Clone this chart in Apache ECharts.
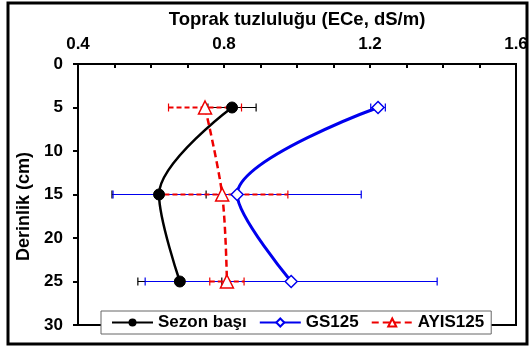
<!DOCTYPE html>
<html>
<head>
<meta charset="utf-8">
<script src="https://cdn.jsdelivr.net/npm/echarts@6/dist/echarts.min.js"></script>
<style>html,body{margin:0;padding:0;background:#fff}#c{width:531px;height:349px}</style>
</head>
<body>
<div id="c"></div>
<script>
const depths = [5, 15, 25];
const sezonVals = [0.822, 0.622, 0.679];
const sezonErr = [0.066, 0.129, 0.115];
const gsVals = [1.222, 0.836, 0.984];
const gsErr = [0.02, 0.34, 0.40];
const ayisVals = [0.748, 0.795, 0.808];
const ayisErr = [0.10, 0.18, 0.047];
const xTicks = [0.4, 0.8, 1.2, 1.6];
const yTicks = [0, 5, 10, 15, 20, 25, 30];

const FONT = 'Liberation Sans';
const chart = echarts.init(document.getElementById('c'));

function pts(vals) { return vals.map((v, i) => [v, depths[i]]); }
function errData(vals, errs) { return vals.map((v, i) => [v - errs[i], v + errs[i], depths[i]]); }
function errSeries(vals, errs, color, width, dash) {
  return {
    type: 'custom', silent: true, z: 1, legendHoverLink: false,
    data: errData(vals, errs),
    renderItem: function (params, api) {
      const a = api.coord([api.value(0), api.value(2)]);
      const b = api.coord([api.value(1), api.value(2)]);
      const h = 4;
      const style = { stroke: color, lineWidth: width, lineDash: dash || null };
      return {
        type: 'group', children: [
          { type: 'line', shape: { x1: a[0], y1: a[1], x2: b[0], y2: b[1] }, style: style },
          { type: 'line', shape: { x1: a[0], y1: a[1] - h, x2: a[0], y2: a[1] + h }, style: { stroke: color, lineWidth: 1.2 } },
          { type: 'line', shape: { x1: b[0], y1: b[1] - h, x2: b[0], y2: b[1] + h }, style: { stroke: color, lineWidth: 1.2 } }
        ]
      };
    }
  };
}

chart.setOption({
  animation: false,
  textStyle: { fontFamily: FONT },
  grid: { left: 78, right: 15, top: 64, bottom: 24, show: true, borderColor: '#000', borderWidth: 2, backgroundColor: 'transparent' },
  graphic: [{ type: 'rect', shape: { x: 8, y: 3, width: 519, height: 341 }, style: { fill: 'none', stroke: '#000', lineWidth: 3 }, z: 100 }],
  xAxis: {
    type: 'value', position: 'top', min: xTicks[0], max: xTicks[xTicks.length - 1], interval: 0.4,
    name: 'Toprak tuzluluğu (ECe, dS/m)', nameLocation: 'middle', nameGap: 35,
    nameTextStyle: { fontFamily: FONT, fontWeight: 'bold', fontSize: 18.5, color: '#000' },
    axisLine: { lineStyle: { color: '#000', width: 2 } },
    axisTick: { inside: true, length: 4, lineStyle: { color: '#000', width: 2 } },
    minorTick: { show: true, splitNumber: 4, length: 4, lineStyle: { color: '#000', width: 2 } },
    splitLine: { show: false },
    axisLabel: { fontFamily: FONT, fontWeight: 'bold', fontSize: 17, color: '#000', margin: 11, formatter: v => v.toFixed(1) }
  },
  yAxis: {
    type: 'value', inverse: true, min: yTicks[0], max: yTicks[yTicks.length - 1], interval: 5,
    name: 'Derinlik (cm)', nameLocation: 'middle', nameGap: 43, nameRotate: 90,
    nameTextStyle: { fontFamily: FONT, fontWeight: 'bold', fontSize: 18, color: '#000', padding: [0, 24, 0, 0] },
    axisLine: { lineStyle: { color: '#000', width: 2 } },
    axisTick: { inside: false, length: 5, lineStyle: { color: '#000', width: 2 } },
    splitLine: { show: false },
    axisLabel: { fontFamily: FONT, fontWeight: 'bold', fontSize: 17, color: '#000', margin: 15 }
  },
  legend: {
    left: 101, top: 311, padding: [3, 7, 3, 10], itemGap: 12, itemWidth: 41, itemHeight: 10,
    backgroundColor: '#fff', borderColor: '#666', borderWidth: 1,
    textStyle: { fontFamily: FONT, fontWeight: 'bold', fontSize: 17, color: '#000' },
    data: ['Sezon başı', 'GS125', 'AYIS125']
  },
  series: [
    errSeries(sezonVals, sezonErr, '#000', 1),
    errSeries(gsVals, gsErr, '#0000ee', 1),
    errSeries(ayisVals, ayisErr, '#ee0000', 2, [5, 3]),
    {
      name: 'Sezon başı', type: 'line', smooth: 0.33, z: 3, data: pts(sezonVals),
      symbol: 'circle', symbolSize: 11,
      lineStyle: { color: '#000', width: 2.5 }, itemStyle: { color: '#000', borderColor: '#000' }
    },
    {
      name: 'GS125', type: 'line', smooth: 0.33, z: 3, data: pts(gsVals),
      symbol: 'diamond', symbolSize: 12,
      lineStyle: { color: '#0000ee', width: 3 }, itemStyle: { color: '#fff', borderColor: '#0000ee', borderWidth: 1.5 }
    },
    {
      name: 'AYIS125', type: 'line', smooth: 0.33, z: 3, data: pts(ayisVals),
      symbol: 'triangle', symbolSize: 13,
      lineStyle: { color: '#ee0000', width: 2.5, type: [7, 4] }, itemStyle: { color: '#fff', borderColor: '#ee0000', borderWidth: 1.5 }
    }
  ]
});
</script>
</body>
</html>
